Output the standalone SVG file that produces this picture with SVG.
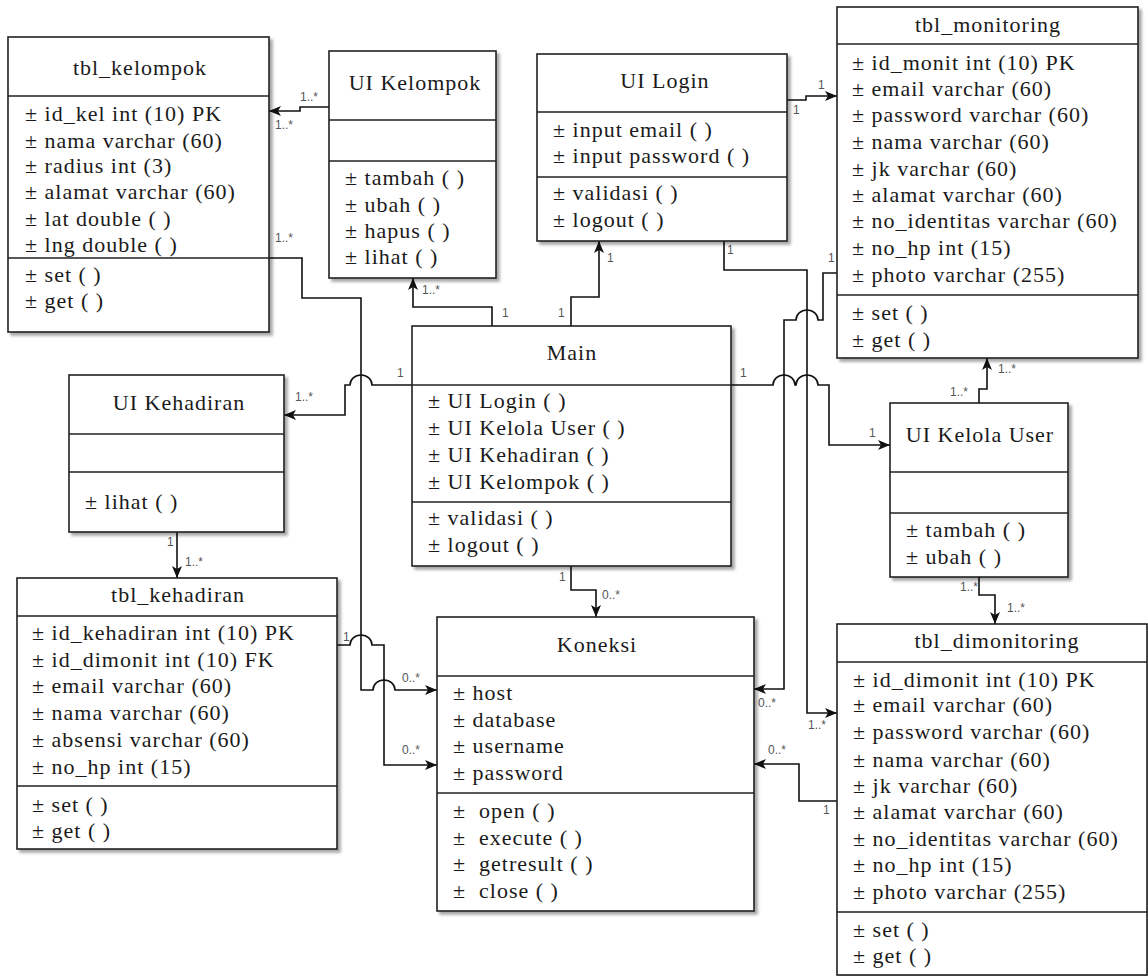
<svg xmlns="http://www.w3.org/2000/svg" width="1148" height="976" viewBox="0 0 1148 976">
<defs>
<filter id="sh" x="-5%" y="-5%" width="115%" height="115%">
<feDropShadow dx="3" dy="3" stdDeviation="1.5" flood-color="#000" flood-opacity="0.35"/>
</filter>
<marker id="arr" markerUnits="userSpaceOnUse" markerWidth="13" markerHeight="11" refX="12" refY="5" orient="auto">
<path d="M0,0 L12,5 L0,10 L3,5 z" fill="#111"/>
</marker>
<style>
.box{fill:#fff;stroke:#222;stroke-width:1.6;filter:url(#sh)}
.div{stroke:#222;stroke-width:1.6}
.t{font-family:'Liberation Serif','Times New Roman','DejaVu Serif',serif;font-size:22px;letter-spacing:1px;fill:#1a1a1a}
.ti{text-anchor:middle}
.pre{white-space:pre}
.c{fill:none;stroke:#111;stroke-width:1.6}
.ca{marker-end:url(#arr)}
.m{font-family:'Liberation Sans',Arial,sans-serif;font-size:12px;fill:#555}
</style>
</defs>
<rect width="1148" height="976" fill="#fff"/>

<g id="connectors">
<path class="c ca" d="M330,107 H300 V111 H269"/>
<path class="c ca" d="M269,258 H302 V298 H361 V690 H373 A11,10 0 0 1 395,690 H437"/>
<path class="c ca" d="M412,385 H372 A11,10 0 0 0 350,385 H345 V415 H284"/>
<path class="c ca" d="M337,645 H350 A11,10 0 0 1 372,645 H384 V765 H437"/>
<path class="c ca" d="M492,326 V307 H413 V278"/>
<path class="c ca" d="M571,326 V297 H599 V241"/>
<path class="c ca" d="M787,100 H806 V96 H837"/>
<path class="c ca" d="M724,241 V270 H807 V713 H837"/>
<path class="c ca" d="M837,273 H823 V320 H818 A11,10 0 0 0 796,320 H784 V689 H754"/>
<path class="c ca" d="M731,385 H773 A11,10 0 0 1 795,385 H796 A11,10 0 0 1 818,385 H829 V445 H890"/>
<path class="c ca" d="M571,566 V590 H596 V617"/>
<path class="c ca" d="M177,532 V578"/>
<path class="c ca" d="M979,403 V389 H987 V358"/>
<path class="c ca" d="M979,577 V595 H995 V624"/>
<path class="c ca" d="M837,801 H799 V764 H754"/>
<g id="labels">
<text class="m" x="300" y="101">1..*</text>
<text class="m" x="275" y="129">1..*</text>
<text class="m" x="275" y="242">1..*</text>
<text class="m" x="422" y="294">1..*</text>
<text class="m" x="502" y="317">1</text>
<text class="m" x="558" y="317">1</text>
<text class="m" x="607" y="262">1</text>
<text class="m" x="818" y="89">1</text>
<text class="m" x="793" y="114">1</text>
<text class="m" x="727" y="254">1</text>
<text class="m" x="828" y="262">1</text>
<text class="m" x="740" y="377">1</text>
<text class="m" x="869" y="437">1</text>
<text class="m" x="397" y="377">1</text>
<text class="m" x="295" y="401">1..*</text>
<text class="m" x="167" y="546">1</text>
<text class="m" x="185" y="566">1..*</text>
<text class="m" x="559" y="581">1</text>
<text class="m" x="602" y="599">0..*</text>
<text class="m" x="950" y="396">1..*</text>
<text class="m" x="998" y="373">1..*</text>
<text class="m" x="960" y="591">1..*</text>
<text class="m" x="1007" y="612">1..*</text>
<text class="m" x="343" y="641">1</text>
<text class="m" x="402" y="754">0..*</text>
<text class="m" x="402" y="682">0..*</text>
<text class="m" x="758" y="707">0..*</text>
<text class="m" x="808" y="729">1..*</text>
<text class="m" x="768" y="754">0..*</text>
<text class="m" x="823" y="814">1</text>
</g>
</g>

<g id="tbl_kelompok" font-family="Liberation Serif, serif">
<rect class="box" x="8" y="37" width="261" height="295"/>
<line class="div" x1="8" y1="96" x2="269" y2="96"/>
<line class="div" x1="8" y1="258" x2="269" y2="258"/>
<text class="t ti" x="140" y="75">tbl_kelompok</text>
<text class="t" x="25" y="121">± id_kel int (10) PK</text>
<text class="t" x="25" y="148">± nama varchar (60)</text>
<text class="t" x="25" y="173">± radius int (3)</text>
<text class="t" x="25" y="199">± alamat varchar (60)</text>
<text class="t" x="25" y="226">± lat double ( )</text>
<text class="t" x="25" y="252">± lng double ( )</text>
<text class="t" x="25" y="282">± set ( )</text>
<text class="t" x="25" y="308">± get ( )</text>
</g>

<g id="ui_kelompok">
<rect class="box" x="329" y="51" width="167" height="227"/>
<line class="div" x1="329" y1="120" x2="496" y2="120"/>
<line class="div" x1="329" y1="161" x2="496" y2="161"/>
<text class="t ti" x="415" y="90">UI Kelompok</text>
<text class="t" x="345" y="185">± tambah ( )</text>
<text class="t" x="345" y="212">± ubah ( )</text>
<text class="t" x="345" y="238">± hapus ( )</text>
<text class="t" x="345" y="264">± lihat ( )</text>
</g>

<g id="ui_login">
<rect class="box" x="537" y="54" width="250" height="187"/>
<line class="div" x1="537" y1="112" x2="787" y2="112"/>
<line class="div" x1="537" y1="177" x2="787" y2="177"/>
<text class="t ti" x="665" y="88">UI Login</text>
<text class="t" x="553" y="137">± input email ( )</text>
<text class="t" x="553" y="163">± input password ( )</text>
<text class="t" x="553" y="200">± validasi ( )</text>
<text class="t" x="553" y="227">± logout ( )</text>
</g>

<g id="tbl_monitoring">
<rect class="box" x="837" y="7" width="301" height="351"/>
<line class="div" x1="837" y1="44" x2="1138" y2="44"/>
<line class="div" x1="837" y1="295" x2="1138" y2="295"/>
<text class="t ti" x="988" y="32">tbl_monitoring</text>
<text class="t" x="852" y="70">± id_monit int (10) PK</text>
<text class="t" x="852" y="96">± email varchar (60)</text>
<text class="t" x="852" y="122">± password varchar (60)</text>
<text class="t" x="852" y="149">± nama varchar (60)</text>
<text class="t" x="852" y="176">± jk varchar (60)</text>
<text class="t" x="852" y="202">± alamat varchar (60)</text>
<text class="t" x="852" y="228">± no_identitas varchar (60)</text>
<text class="t" x="852" y="255">± no_hp int (15)</text>
<text class="t" x="852" y="282">± photo varchar (255)</text>
<text class="t" x="852" y="320">± set ( )</text>
<text class="t" x="852" y="347">± get ( )</text>
</g>

<g id="main">
<rect class="box" x="412" y="326" width="319" height="240"/>
<line class="div" x1="412" y1="385" x2="731" y2="385"/>
<line class="div" x1="412" y1="502" x2="731" y2="502"/>
<text class="t ti" x="572" y="360">Main</text>
<text class="t" x="428" y="408">± UI Login ( )</text>
<text class="t" x="428" y="435">± UI Kelola User ( )</text>
<text class="t" x="428" y="462">± UI Kehadiran ( )</text>
<text class="t" x="428" y="489">± UI Kelompok ( )</text>
<text class="t" x="428" y="525">± validasi ( )</text>
<text class="t" x="428" y="552">± logout ( )</text>
</g>

<g id="ui_kehadiran">
<rect class="box" x="69" y="375" width="215" height="157"/>
<line class="div" x1="69" y1="434" x2="284" y2="434"/>
<line class="div" x1="69" y1="472" x2="284" y2="472"/>
<text class="t ti" x="179" y="410">UI Kehadiran</text>
<text class="t" x="85" y="509">± lihat ( )</text>
</g>

<g id="ui_kelola_user">
<rect class="box" x="890" y="403" width="178" height="174"/>
<line class="div" x1="890" y1="472" x2="1068" y2="472"/>
<line class="div" x1="890" y1="513" x2="1068" y2="513"/>
<text class="t ti" x="980" y="442">UI Kelola User</text>
<text class="t" x="906" y="537">± tambah ( )</text>
<text class="t" x="906" y="564">± ubah ( )</text>
</g>

<g id="tbl_kehadiran">
<rect class="box" x="17" y="578" width="320" height="271"/>
<line class="div" x1="17" y1="616" x2="337" y2="616"/>
<line class="div" x1="17" y1="786" x2="337" y2="786"/>
<text class="t ti" x="178" y="602">tbl_kehadiran</text>
<text class="t" x="32" y="640">± id_kehadiran int (10) PK</text>
<text class="t" x="32" y="667">± id_dimonit int (10) FK</text>
<text class="t" x="32" y="693">± email varchar (60)</text>
<text class="t" x="32" y="720">± nama varchar (60)</text>
<text class="t" x="32" y="747">± absensi varchar (60)</text>
<text class="t" x="32" y="774">± no_hp int (15)</text>
<text class="t" x="32" y="812">± set ( )</text>
<text class="t" x="32" y="838">± get ( )</text>
</g>

<g id="koneksi">
<rect class="box" x="437" y="617" width="317" height="294"/>
<line class="div" x1="437" y1="676" x2="754" y2="676"/>
<line class="div" x1="437" y1="793" x2="754" y2="793"/>
<text class="t ti" x="597" y="652">Koneksi</text>
<text class="t" x="453" y="700">± host</text>
<text class="t" x="453" y="727">± database</text>
<text class="t" x="453" y="753">± username</text>
<text class="t" x="453" y="780">± password</text>
<text class="t pre" x="453" y="818">±  open ( )</text>
<text class="t pre" x="453" y="845">±  execute ( )</text>
<text class="t pre" x="453" y="871">±  getresult ( )</text>
<text class="t pre" x="453" y="898">±  close ( )</text>
</g>

<g id="tbl_dimonitoring">
<rect class="box" x="837" y="624" width="310" height="351"/>
<line class="div" x1="837" y1="662" x2="1147" y2="662"/>
<line class="div" x1="837" y1="912" x2="1147" y2="912"/>
<text class="t ti" x="997" y="648">tbl_dimonitoring</text>
<text class="t" x="853" y="687">± id_dimonit int (10) PK</text>
<text class="t" x="853" y="712">± email varchar (60)</text>
<text class="t" x="853" y="739">± password varchar (60)</text>
<text class="t" x="853" y="767">± nama varchar (60)</text>
<text class="t" x="853" y="793">± jk varchar (60)</text>
<text class="t" x="853" y="819">± alamat varchar (60)</text>
<text class="t" x="853" y="846">± no_identitas varchar (60)</text>
<text class="t" x="853" y="872">± no_hp int (15)</text>
<text class="t" x="853" y="899">± photo varchar (255)</text>
<text class="t" x="853" y="937">± set ( )</text>
<text class="t" x="853" y="963">± get ( )</text>
</g>
</svg>
